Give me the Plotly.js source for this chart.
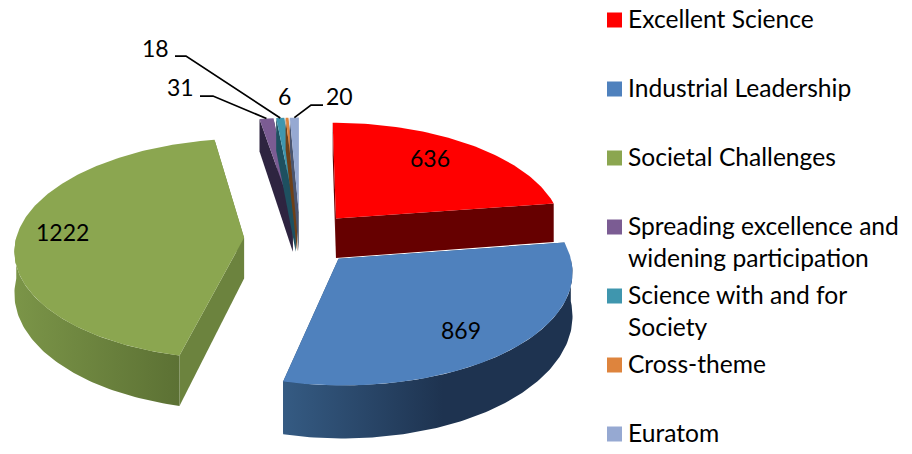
<!DOCTYPE html>
<html><head><meta charset="utf-8">
<script src="https://cdn.plot.ly/plotly-3.0.1.min.js"></script>
<style>html,body{margin:0;padding:0;background:#fff}</style></head>
<body><div id="chart" style="width:912px;height:454px"></div>
<script>
const categories = ["Excellent Science","Industrial Leadership","Societal Challenges","Spreading excellence and<br>widening participation","Science with and for<br>Society","Cross-theme","Euratom"];
const values = [636,869,1222,31,18,6,20];
const topColors = ["#FF0000","#4F81BD","#8BA650","#7B5C93","#3F96AE","#DE843D","#96A9D2"];
const cutColors = ["#660000","#2A4A70","#6C833E","#2E2440","#1E5060","#6E4018","#4A5570"];
const wallStops = [["#660000","#660000"],["#355B83","#1E3350"],["#7B9548","#5C7134"],["#2E2440","#2E2440"],["#1E5060","#1E5060"],["#6E4018","#6E4018"],["#4A5570","#4A5570"]];

// projection of the tilted pie onto the page
const cx=300, cy=238.5, A=228, B=109.4, persp=0.102, explode=0.2456, depth=41;
function project(X,Y,down){const s=1/(1-persp*Y);return [cx+A*X*s, cy+B*Y*s+(down?depth*s*s:0)];}
const rad=d=>d*Math.PI/180;
const total=values.reduce((a,b)=>a+b,0);
let acc=0;
const slices=values.map((v,i)=>{const a0=acc/total*360;acc+=v;const a1=acc/total*360;const m=rad((a0+a1)/2);
  return {i,a0,a1,ox:explode*Math.sin(m),oy:-explode*Math.cos(m)};});
function rim(sl,a,down){return project(sl.ox+Math.sin(rad(a)),sl.oy-Math.cos(rad(a)),down);}
function apex(sl,down){return project(sl.ox,sl.oy,down);}
function poly(pts,extra){return Object.assign({type:"scatter",mode:"lines",x:pts.map(p=>p[0]),y:pts.map(p=>p[1]),
  fill:"toself",line:{width:0},hoverinfo:"skip",showlegend:false},extra);}
function arcPts(sl,a,b,down){const n=Math.max(2,Math.ceil(Math.abs(b-a)));const r=[];for(let k=0;k<=n;k++)r.push(rim(sl,a+(b-a)*k/n,down));return r;}

const traces=[];
// back to front: thin slices, then red, green, blue
[3,4,5,6,0,2,1].forEach(idx=>{
  const sl=slices[idx];
  [sl.a0,sl.a1].forEach(a=>{
    traces.push(poly([apex(sl,false),rim(sl,a,false),rim(sl,a,true),apex(sl,true)],{fillcolor:cutColors[idx]}));
  });
  const w0=Math.max(sl.a0,90), w1=Math.min(sl.a1,270);
  if(w1>w0){
    const up=arcPts(sl,w0,w1,false), dn=arcPts(sl,w1,w0,true);
    traces.push(poly(up.concat(dn),{fillgradient:{type:"horizontal",
      colorscale:(w0<=90?[[0,wallStops[idx][0]],[0.55,wallStops[idx][1]],[1,wallStops[idx][1]]]
                       :[[0,wallStops[idx][0]],[1,wallStops[idx][1]]])}}));
  }
  traces.push(poly([apex(sl,false)].concat(arcPts(sl,sl.a0,sl.a1,false)),{fillcolor:topColors[idx],name:categories[idx]}));
});

// leader lines for the thin slices
const leaders=[[3,[200,96],[213,96]],[4,[175,56],[186,56]],[6,[323,105],[311,105]]];
leaders.forEach(([i,a,b])=>{
  const sl=slices[i];const e=rim(sl,(sl.a0+sl.a1)/2,false);
  traces.push({type:"scatter",mode:"lines",x:[a[0],b[0],e[0]],y:[a[1],b[1],e[1]],line:{color:"#000",width:1.75},hoverinfo:"skip",showlegend:false});
});

// legend
const legX=614.5, legY0=20, legStep=69;
traces.push({type:"scatter",mode:"markers",x:categories.map(()=>legX),y:categories.map((c,i)=>legY0+i*legStep),
  marker:{symbol:"square",size:15,color:topColors,line:{width:0}},hoverinfo:"skip",showlegend:false});

const legendFont={family:"Lato, 'Liberation Sans', sans-serif",size:24.6,color:"#000"};
const labelFont={family:"Lato, 'Liberation Sans', sans-serif",size:23,color:"#000"};
const annotations=categories.map((c,i)=>({x:627,y:legY0+i*legStep-17.5,xref:"x",yref:"y",text:c,showarrow:false,xanchor:"left",yanchor:"top",align:"left",font:legendFont,borderpad:0}));
const labelPos=[[430,158],[461,330],[62,232],[180,87],[155,48],[284,96],[339,96]];
values.forEach((v,i)=>annotations.push({x:labelPos[i][0],y:labelPos[i][1],xref:"x",yref:"y",text:String(v),showarrow:false,xanchor:"center",yanchor:"middle",font:labelFont,borderpad:0}));

const layout={width:912,height:454,margin:{l:0,r:0,t:0,b:0},paper_bgcolor:"#fff",plot_bgcolor:"#fff",showlegend:false,
  xaxis:{range:[0,912],visible:false,fixedrange:true},yaxis:{range:[454,0],visible:false,fixedrange:true},annotations};
Plotly.newPlot("chart",traces,layout,{displayModeBar:false,staticPlot:true});
</script></body></html>
